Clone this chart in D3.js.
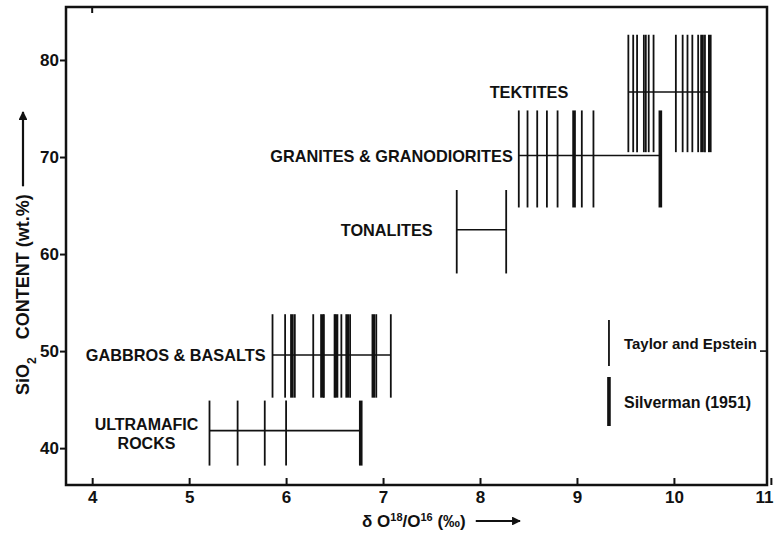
<!DOCTYPE html>
<html>
<head>
<meta charset="utf-8">
<script src="https://cdn.jsdelivr.net/npm/d3@7"></script>
<style>
  body { margin: 0; background: #fff; }
  svg text { font-family: "Liberation Sans", Arial, sans-serif; fill: #111; }
</style>
</head>
<body>
<script>
// rock groups, bottom to top
const groupNames = ['ULTRAMAFIC ROCKS', 'GABBROS & BASALTS', 'TONALITES', 'GRANITES & GRANODIORITES', 'TEKTITES']
const sio2Mid  = [41.8, 49.6, 62.5, 70.15, 76.7]
const sio2Low  = [38.2, 45.2, 58.0, 64.8, 70.5]
const sio2High = [44.9, 53.8, 66.6, 74.8, 82.6]

// delta O18 values, thin lines (Taylor and Epstein)
const taylorEpstein = [
  [5.21, 5.50, 5.78, 6.00],
  [5.86, 5.99, 6.09, 6.28, 6.39, 6.50, 6.57, 6.66, 6.93, 7.08],
  [7.76, 8.27],
  [8.40, 8.49, 8.59, 8.69, 8.80, 9.05, 9.17],
  [9.53, 9.58, 9.62, 9.69, 9.71, 9.74, 9.79, 10.02, 10.09, 10.14, 10.19, 10.25, 10.32]
]
// thick lines (Silverman 1951)
const silverman = [
  [6.77],
  [6.06, 6.37, 6.52, 6.63, 6.90],
  [],
  [8.97, 9.86],
  [10.29, 10.37]
]

const xTicks = [4, 5, 6, 7, 8, 9, 10, 11]
const yTicks = [40, 50, 60, 70, 80]

var config = {
  width: 774,
  height: 538,
  left: 66, right: 767, top: 7, bottom: 485
}

var svg = d3.select('body').append('svg')
  .attr('width', config.width)
  .attr('height', config.height)

svg.append('defs').append('marker')
  .attr('id', 'head')
  .attr('viewBox', '0 0 10 10').attr('refX', 9).attr('refY', 5)
  .attr('markerWidth', 5).attr('markerHeight', 4).attr('markerUnits', 'strokeWidth')
  .attr('orient', 'auto')
  .append('path').attr('d', 'M0,0L10,5L0,10z').attr('fill', '#111')

var x = d3.scaleLinear().domain([3.73, 10.96]).range([config.left, config.right])
var y = d3.scaleLinear().domain([36.2, 85.46]).range([config.bottom, config.top])

// x axis, ticks point inward
var xAxis = svg.append('g')
  .attr('transform', 'translate(0,' + config.bottom + ')')
  .call(d3.axisBottom(x).tickValues(xTicks).tickSize(-7).tickPadding(6).tickFormat(d3.format('d')))
xAxis.select('.domain').remove()
// last label sits on the window edge
xAxis.selectAll('.tick').filter(d => d === 11).select('text')
  .attr('text-anchor', 'end').attr('x', config.width - 1 - x(11))

var yAxis = svg.append('g')
  .attr('transform', 'translate(' + config.left + ',0)')
  .call(d3.axisLeft(y).tickValues(yTicks).tickSize(6).tickPadding(1).tickFormat(d3.format('d')))
yAxis.select('.domain').remove()

svg.selectAll('.tick line').attr('stroke', '#111').attr('stroke-width', 2)
svg.selectAll('.tick text')
  .style('font-size', '17px').style('font-weight', 'bold').attr('fill', '#111')

// stray tick marks on top and right frame
svg.append('line')
  .attr('x1', x(4)).attr('x2', x(4)).attr('y1', config.top).attr('y2', config.top + 6)
  .attr('stroke', '#111').attr('stroke-width', 2)
svg.append('line')
  .attr('x1', config.right - 7).attr('x2', config.right).attr('y1', y(50)).attr('y2', y(50))
  .attr('stroke', '#111').attr('stroke-width', 1.6)

// frame
svg.append('rect')
  .attr('x', config.left).attr('y', config.top)
  .attr('width', config.right - config.left).attr('height', config.bottom - config.top)
  .attr('fill', 'none').attr('stroke', '#111').attr('stroke-width', 2.5)

// groups
groupNames.forEach((name, i) => {
  var all = taylorEpstein[i].concat(silverman[i])
  var g = svg.append('g')
  g.append('line')
    .attr('x1', x(d3.min(all))).attr('x2', x(d3.max(all)))
    .attr('y1', y(sio2Mid[i])).attr('y2', y(sio2Mid[i]))
    .attr('stroke', '#111').attr('stroke-width', 1.6)
  g.selectAll('line.te').data(taylorEpstein[i]).enter().append('line')
    .attr('class', 'te')
    .attr('x1', d => x(d)).attr('x2', d => x(d))
    .attr('y1', y(sio2Low[i])).attr('y2', y(sio2High[i]))
    .attr('stroke', '#111').attr('stroke-width', 1.8)
  g.selectAll('line.sv').data(silverman[i]).enter().append('line')
    .attr('class', 'sv')
    .attr('x1', d => x(d)).attr('x2', d => x(d))
    .attr('y1', y(sio2Low[i])).attr('y2', y(sio2High[i]))
    .attr('stroke', '#111').attr('stroke-width', 3.6)
})

// group labels
var labelStyle = (t) => t.style('font-size', '16.3px').style('font-weight', 'bold').attr('text-anchor', 'end')
var labelGap = [0, 7, 24, 6, 60]
;[1, 2, 3, 4].forEach(i => {
  var all = taylorEpstein[i].concat(silverman[i])
  svg.append('text')
    .attr('x', x(d3.min(all)) - labelGap[i])
    .attr('y', y(sio2Mid[i]) + 6)
    .text(groupNames[i])
    .call(labelStyle)
})
// ultramafic label on two lines
var umX = x(d3.min(taylorEpstein[0])) - 7
var um = svg.append('text').attr('text-anchor', 'middle')
  .style('font-size', '16px').style('font-weight', 'bold')
um.append('tspan').attr('x', umX - 56).attr('y', y(sio2Mid[0]) - 1).text('ULTRAMAFIC')
um.append('tspan').attr('x', umX - 56).attr('y', y(sio2Mid[0]) + 18).text('ROCKS')

// legend
var lx = x(9.33)
svg.append('line').attr('x1', lx).attr('x2', lx).attr('y1', 320).attr('y2', 366)
  .attr('stroke', '#111').attr('stroke-width', 1.8)
svg.append('line').attr('x1', lx).attr('x2', lx).attr('y1', 377).attr('y2', 426)
  .attr('stroke', '#111').attr('stroke-width', 3.6)
svg.append('text').attr('x', lx + 15).attr('y', 349).text('Taylor and Epstein')
  .style('font-size', '15px').style('font-weight', 'bold')
svg.append('text').attr('x', lx + 15).attr('y', 408).text('Silverman (1951)')
  .style('font-size', '16px').style('font-weight', 'bold')

// axis titles with drawn arrows
var yTitle = svg.append('text')
  .attr('transform', 'translate(29,395) rotate(-90)')
  .style('font-size', '18px').style('font-weight', 'bold')
  .html('SiO<tspan baseline-shift="sub" font-size="12px">2</tspan>\u2003CONTENT (wt.%)')
var yLen = yTitle.node().getComputedTextLength()
svg.append('line')
  .attr('x1', 23).attr('x2', 23)
  .attr('y1', 395 - yLen - 8).attr('y2', 112)
  .attr('stroke', '#111').attr('stroke-width', 2.2)
  .attr('marker-end', 'url(#head)')

var xTitle = svg.append('text')
  .attr('x', 362).attr('y', 527)
  .style('font-size', '17px').style('font-weight', 'bold')
  .html('\u03b4 O<tspan baseline-shift="super" font-size="11px">18</tspan>/O<tspan baseline-shift="super" font-size="11px">16</tspan> (\u2030)')
var xLen = xTitle.node().getComputedTextLength()
svg.append('line')
  .attr('x1', 362 + xLen + 10).attr('x2', 520)
  .attr('y1', 521).attr('y2', 521)
  .attr('stroke', '#111').attr('stroke-width', 2.2)
  .attr('marker-end', 'url(#head)')
</script>
</body>
</html>
